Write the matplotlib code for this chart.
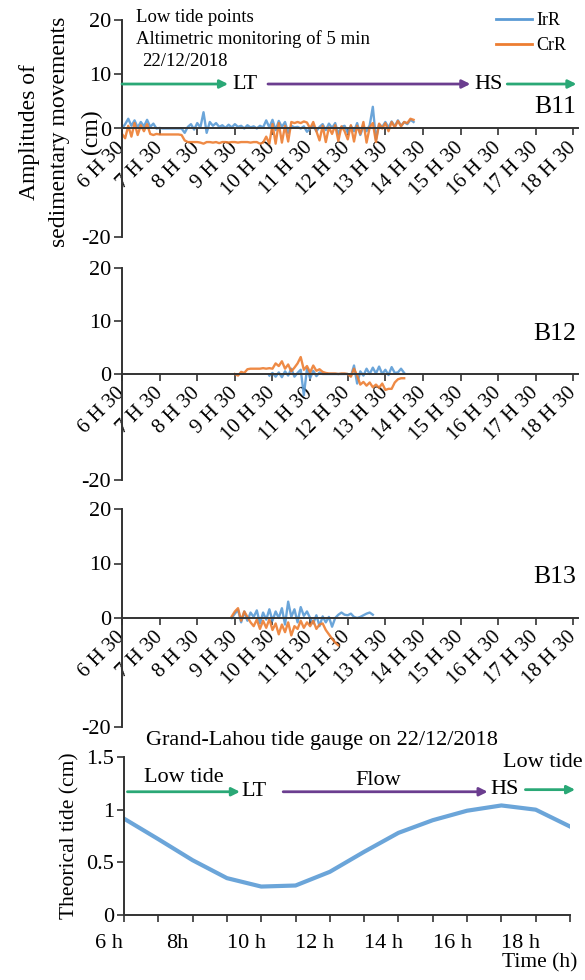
import matplotlib
matplotlib.use("Agg")
import matplotlib.pyplot as plt
import matplotlib.transforms as mtransforms
from matplotlib.lines import Line2D

plt.rcParams['font.family'] = ['Liberation Serif', 'DejaVu Serif']

# ---------------- data ----------------
time_labels = ['6 H 30', '7 H 30', '8 H 30', '9 H 30', '10 H 30', '11 H 30', '12 H 30',
               '13 H 30', '14 H 30', '15 H 30', '16 H 30', '17 H 30', '18 H 30']
tick_hours = [6.5, 7.5, 8.5, 9.5, 10.5, 11.5, 12.5, 13.5, 14.5, 15.5, 16.5, 17.5, 18.5]
step_min = 5  # altimetric monitoring every 5 min

b11_start = 6.5
b11_irr = [0, 0.8, 1.8, 0.5, 1.5, 0.2, 1.2, 0.4, 1.6, 0.3, 0.9, 0.0,
           0.1, 0, 0, 0, 0, 0, 0, 0, -0.8, 0.3, 0.8, -0.2,
           1.0, 0.2, 3.0, -0.8, 1.2, 0.5, 1.0, 0.3, 0.6, 0.1, 0.7, 0.2,
           0.8, 0.3, 0.5, 0.0, 0.6, 0.2, 0.4, 0.0, 0.5, 0.2, 1.5, 0.2,
           1.6, -0.3, 1.4, 0.3, 1.2, -0.8, 0.5, 0.2, 0.3, 0.0, 0.4, -0.6,
           0.0, 0.5, -0.5, 0.3, 0.8, -0.3, 0.9, 0.1, 1.0, -1.0, 0.3, 0.5,
           -0.8, 0.5, -0.5, 1.0, -1.2, 0.4, -0.5, 0.6, 4.0, -2.0, 0.8, 0.3,
           1.2, 0.2, 1.3, 0.4, 1.5, 0.5, 1.2, 0.8, 1.6, 1.2]
b11_crr = [-1.0, -1.8, 0.5, -1.5, 1.0, -1.2, 0.6, -0.5, 0.8, -1.0, -1.2, -1.0,
           -1.1, -1.1, -1.1, -1.1, -1.1, -1.1, -1.1, -1.2, -2.2, -2.5, -2.5, -2.5,
           -2.5, -2.6, -2.8, -2.5, -2.5, -2.6, -2.5, -2.7, -2.5, -2.5, -2.6, -2.5,
           -2.5, -2.6, -2.5, -2.5, -2.5, -2.6, -2.5, -2.5, -2.8, -2.6, -1.5, -2.8,
           0.8, -2.8, 1.0, -2.6, 0.5, -2.4, 1.2, 1.0, 1.2, 1.0, 1.3, 1.1,
           0.0, 1.2, -0.5, -2.2, 0.5, -2.5, 0.2, -1.0, 0.6, -2.3, 0.4, -0.5,
           -2.0, 0.6, -2.4, 0.5, -1.0, 1.2, -2.6, 0.2, 1.0, -2.5, 0.9, 0.0,
           1.0, -0.5, 1.2, 0.2, 1.4, 0.4, 1.2, 1.0, 1.8, 1.6]

b12_irr_start = 10 + 25 / 60
b12_irr = [-0.3, 0.2, -0.5, 0.3, -0.6, 0.5, -0.3, 1.0, -0.5, 0.2, 0.8, -4.0, 1.0,
           -0.8, 0.6, -0.4, 0.3, 0.0, 0.0, 0.0, 0.0, 0.0, 0.0, 0.0, 0.0,
           0.0, -0.4, 1.6, -1.8, 0.5, -0.3, 1.0, 0.0, 1.2, 0.1, 1.4, 0.0,
           0.8, -0.2, 1.3, 0.2, 0.3, 1.0, 0.2]
b12_crr_start = 9.5
b12_crr = [0.0, -0.3, 0.4, 0.2, 0.9, 1.0, 1.0, 1.0, 1.0, 1.1, 1.0, 1.1,
           1.0, 2.0, 1.5, 2.4, 1.0, 1.8, 0.5, 1.2, 2.0, 3.2, 0.8, 1.5,
           0.3, 1.6, 0.6, 0.9, 0.4, 0.2, 0.1, 0.1, 0.1, 0.0, 0.1, 0.1,
           0.0, -0.5, 1.0, -0.3, -2.0, -1.5, -2.2, -1.6, -2.5, -2.0, -2.6, -1.8,
           -3.0, -2.8, -2.8, -1.6, -1.0, -0.8, -0.8]

b13_irr_start = 9 + 25 / 60
b13_irr = [0.0, 0.8, 1.5, -0.8, 1.2, -0.5, 1.0, 0.2, 1.4, -1.0, 1.0, -0.3, 1.6,
           -0.5, 1.2, 0.0, 1.8, -1.2, 3.0, 0.2, 1.6, -0.8, 2.0, 0.4, 1.2,
           0.0, -1.0, 0.5, -1.5, 0.3, -0.8, 0.2, -1.6, 0.0, 0.6, 1.0, 0.6,
           0.5, 0.8, 0.2, 0.0, 0.2, 0.5, 0.8, 1.0, 0.6]
b13_crr_start = 9 + 25 / 60
b13_crr = [0.3, 1.2, 1.8, -0.5, 1.2, 0.2, -0.8, -1.5, -0.3, -2.0, -0.5, -1.8, -0.2,
           -2.2, -1.0, -3.0, -1.2, -2.6, -0.8, -3.2, -1.5, -2.0, -0.5, -1.8, -0.8,
           -1.5, -0.5, -2.0, -1.2, -1.0, -2.2, -3.0, -3.8, -4.5, -5.0]

tide_hours = [6, 7, 8, 9, 10, 11, 12, 13, 14, 15, 16, 17, 18, 19]
tide_values = [0.915, 0.72, 0.52, 0.35, 0.27, 0.28, 0.41, 0.60, 0.78, 0.90, 0.99, 1.04, 1.00, 0.84]
tide_labels = ['6 h', '', '8h', '', '10 h', '', '12 h', '', '14 h', '', '16 h', '', '18 h', '']

ylabel_lines = ['Amplitudes of', 'sedimentary movements', '(cm)']

BLUE = '#5b9bd5'
ORANGE = '#ed7d31'
GREEN = '#2aa876'
PURPLE = '#6b3d8f'
AXC = '#333333'

W, H = 585, 980
fig = plt.figure(figsize=(W / 100, H / 100), dpi=100)


def rect(left, right, top, bottom):
    return [left / W, 1 - bottom / H, (right - left) / W, (bottom - top) / H]


def series_x(start, n):
    return [start + i * step_min / 60 for i in range(n)]


def arrow(ax, x0, x1, y, color):
    ax.annotate('', xy=(x1, y), xytext=(x0, y), annotation_clip=False,
                arrowprops=dict(arrowstyle='-|>', color=color, lw=2.0,
                                mutation_scale=12, shrinkA=0, shrinkB=0))


def panel(top, bottom, name, name_y, irr_start, irr, crr_start, crr):
    ax = fig.add_axes(rect(122, 578, top, bottom))
    ax.plot(series_x(irr_start, len(irr)), irr, color=BLUE, lw=1.7, alpha=0.9)
    ax.plot(series_x(crr_start, len(crr)), crr, color=ORANGE, lw=1.7, alpha=0.9)
    ax.set_xlim(6.5, 18.62)
    ax.set_ylim(-20, 20)
    ax.spines['top'].set_visible(False)
    ax.spines['right'].set_visible(False)
    ax.spines['bottom'].set_position(('data', 0))
    for s in ['left', 'bottom']:
        ax.spines[s].set_color(AXC)
        ax.spines[s].set_linewidth(1.4)
    ax.set_yticks([20, 10, 0, -20])
    ax.set_yticklabels(['20', '10', '0', '-20'], fontsize=16)
    ax.set_xticks(tick_hours)
    ax.set_xticklabels(time_labels, fontsize=15, rotation=45, ha='right',
                       va='center', rotation_mode='anchor')
    ax.tick_params(axis='x', direction='out', length=5, width=1.2, color=AXC, pad=7)
    ax.tick_params(axis='y', direction='out', length=6, width=1.2, color=AXC, pad=2)
    ax.text(0.997, name_y, name, transform=ax.transAxes, ha='right', va='center',
            fontsize=18.5)
    ax.set_facecolor('none')
    return ax


ax1 = panel(20, 237, 'B11', 0.60, b11_start, b11_irr, b11_start, b11_crr)
ax2 = panel(268, 480, 'B12', 0.69, b12_irr_start, b12_irr, b12_crr_start, b12_crr)
ax3 = panel(509, 727, 'B13', 0.69, b13_irr_start, b13_irr, b13_crr_start, b13_crr)

# arrows and annotations in B11
arrow(ax1, 6.5, 9.32, 8.2, GREEN)
ax1.text(9.77, 8.2, 'LT', ha='center', va='center', fontsize=16)
arrow(ax1, 10.38, 15.76, 8.2, PURPLE)
ax1.text(16.23, 8.2, 'HS', ha='center', va='center', fontsize=16)
arrow(ax1, 16.74, 18.58, 8.2, GREEN)

fig.text(136 / W, 1 - 17 / H, 'Low tide points', fontsize=13.5, va='center')
fig.text(136 / W, 1 - 39 / H, 'Altimetric monitoring of 5 min', fontsize=13.5, va='center')
fig.text(142 / W, 1 - 62 / H, '22/12/2018', fontsize=13.5, va='center')

handles = [Line2D([], [], color=BLUE, lw=2), Line2D([], [], color=ORANGE, lw=2)]
fig.legend(handles, ['IrR', 'CrR'], loc='upper right', bbox_to_anchor=(566 / W, 1 - 12 / H),
           frameon=False, fontsize=13, handlelength=2.0, handletextpad=0.2,
           labelspacing=0.45, borderpad=0, borderaxespad=0)

for xpx, line in zip([29, 60, 91], ylabel_lines):
    fig.text(xpx / W, 1 - 132 / H, line, rotation=90, ha='center', va='center',
             fontsize=17)

# ---------------- tide panel ----------------
axt = fig.add_axes(rect(124, 570, 757, 915))
axt.plot(tide_hours, tide_values, color=BLUE, lw=3.0, alpha=0.9)
axt.set_xlim(6, 19)
axt.set_ylim(0, 1.5)
axt.spines['top'].set_visible(False)
axt.spines['right'].set_visible(False)
for s in ['left', 'bottom']:
    axt.spines[s].set_color(AXC)
    axt.spines[s].set_linewidth(1.4)
axt.set_yticks([0, 0.5, 1, 1.5])
axt.set_yticklabels(['0', '0.5', '1', '1.5'], fontsize=16)
axt.set_xticks(tide_hours)
axt.set_xticklabels([''] * len(tide_hours))
lab_tr = axt.get_xaxis_transform() + mtransforms.ScaledTranslation(-0.15, -0.28, fig.dpi_scale_trans)
for h, lab in zip(tide_hours, tide_labels):
    if lab:
        axt.text(h, 0, lab, transform=lab_tr, ha='center', va='center', fontsize=16,
                 clip_on=False)
axt.tick_params(axis='both', direction='out', length=5, width=1.2, color=AXC)
axt.tick_params(axis='y', pad=2)
axt.set_ylabel('Theorical tide (cm)', fontsize=15.5, labelpad=5)
axt.set_facecolor('none')

arrow(axt, 6.1, 9.38, 1.17, GREEN)
axt.text(9.8, 1.17, 'LT', ha='center', va='center', fontsize=16)
arrow(axt, 10.64, 16.6, 1.17, PURPLE)
axt.text(17.1, 1.19, 'HS', ha='center', va='center', fontsize=16)
arrow(axt, 17.7, 19.15, 1.19, GREEN)
axt.text(7.75, 1.31, 'Low tide', ha='center', va='center', fontsize=16)
axt.text(13.4, 1.28, 'Flow', ha='center', va='center', fontsize=16)
axt.text(18.2, 1.45, 'Low tide', ha='center', va='center', fontsize=16, clip_on=False)
fig.text(322 / W, 1 - 741 / H, 'Grand-Lahou tide gauge on 22/12/2018', ha='center',
         va='center', fontsize=16)
fig.text(540 / W, 1 - 963 / H, 'Time (h)', ha='center', va='center', fontsize=15.5)

fig.savefig('out.png', dpi=100)
